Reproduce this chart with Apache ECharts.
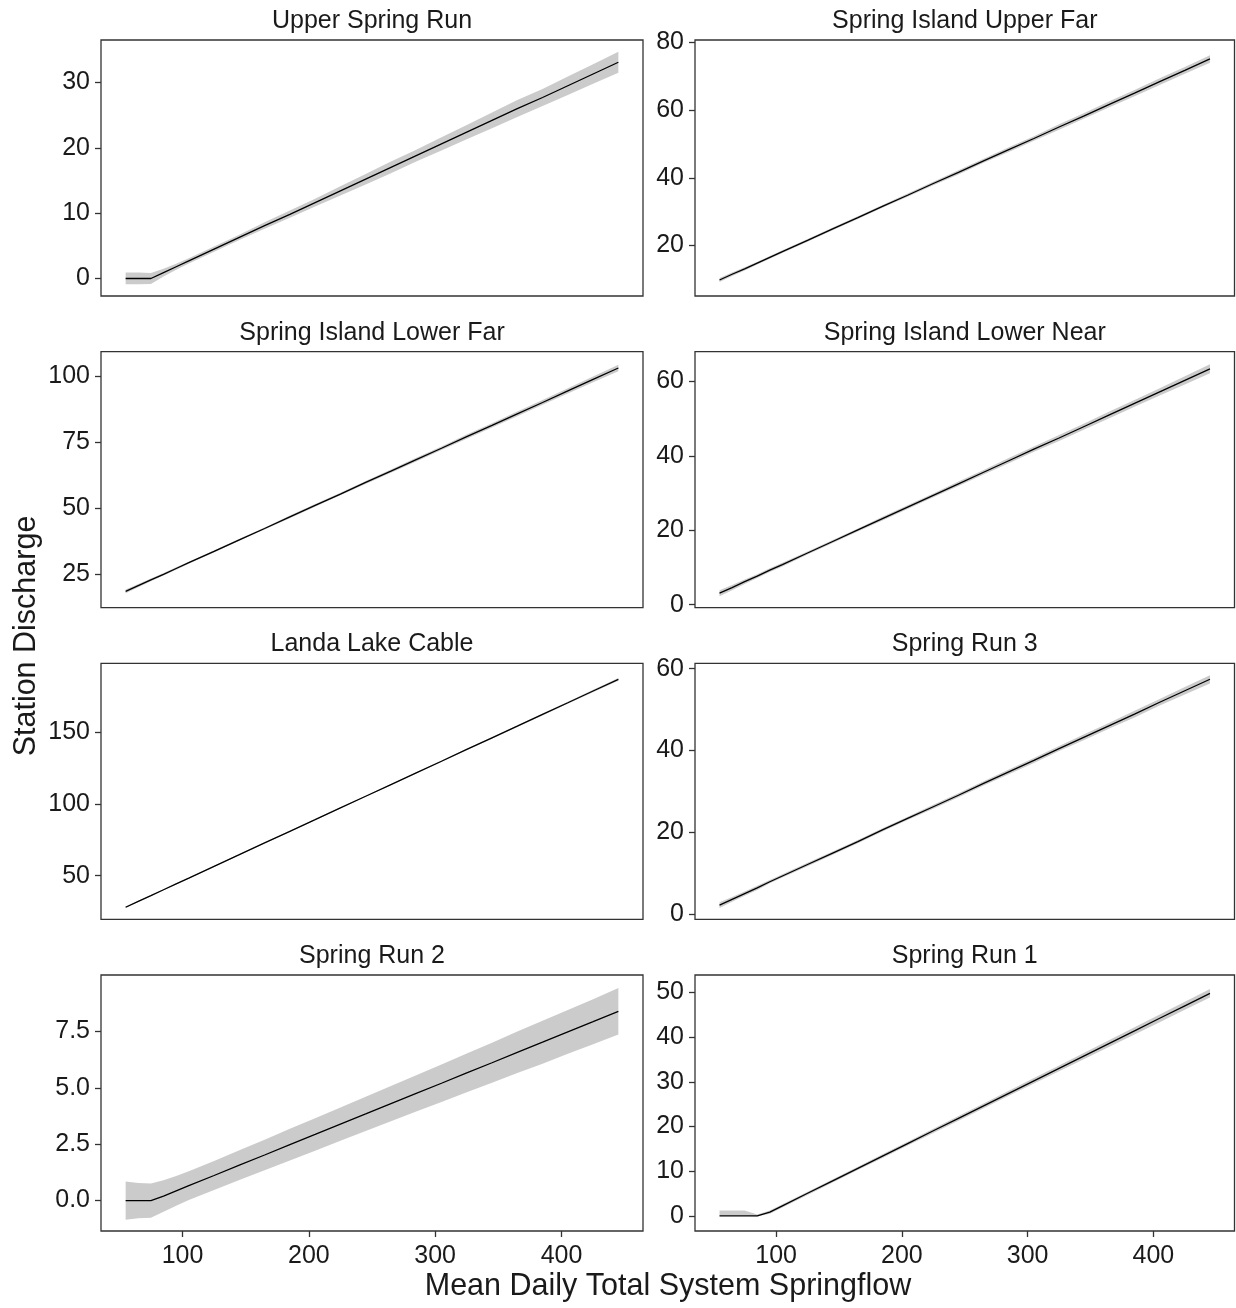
<!DOCTYPE html>
<html>
<head>
<meta charset="utf-8">
<title>Station Discharge vs Mean Daily Total System Springflow</title>
<script src="https://cdn.jsdelivr.net/npm/echarts@6/dist/echarts.min.js"></script>
<style>
  html, body { margin: 0; padding: 0; background: #ffffff; }
  #chart { width: 1236px; height: 1308px; }
</style>
</head>
<body>
<div id="chart"></div>
<script>
// Shared springflow grid (x) used by every station panel
const springflow = [55, 65, 75, 85, 95, 105, 125, 145, 165, 185, 205, 225, 245, 265, 285, 305, 325, 345, 365, 385, 405, 425, 445];
const xTicks = [100, 200, 300, 400];

// Upper Spring Run
const upperSpringRunFit = [0, 0, 0, 0.9, 1.8, 2.7, 4.5, 6.3, 8.1, 9.8, 11.6, 13.4, 15.2, 17.0, 18.8, 20.6, 22.4, 24.2, 26.0, 27.7, 29.5, 31.3, 33.1];
const upperSpringRunLo  = [-0.9, -0.9, -0.85, 0.3, 1.35, 2.3, 4.1, 5.9, 7.6, 9.3, 11.0, 12.7, 14.4, 16.1, 17.9, 19.6, 21.3, 23.0, 24.7, 26.4, 28.1, 29.8, 31.5];
const upperSpringRunHi  = [0.9, 0.9, 0.85, 1.5, 2.25, 3.1, 4.9, 6.7, 8.6, 10.4, 12.2, 14.1, 16.0, 17.9, 19.7, 21.6, 23.5, 25.4, 27.3, 29.0, 30.9, 32.8, 34.7];
const upperSpringRunTicks = [0, 10, 20, 30];

// Spring Island Upper Far
const islandUpperFarFit = [9.8, 11.5, 13.1, 14.8, 16.5, 18.2, 21.5, 24.9, 28.2, 31.6, 34.9, 38.3, 41.6, 45.0, 48.3, 51.6, 55.0, 58.3, 61.7, 65.0, 68.4, 71.7, 75.1];
const islandUpperFarLo  = [9.2, 11.0, 12.6, 14.4, 16.1, 17.8, 21.1, 24.5, 27.8, 31.2, 34.5, 37.8, 41.0, 44.4, 47.6, 50.9, 54.2, 57.5, 60.8, 64.1, 67.4, 70.7, 74.0];
const islandUpperFarHi  = [10.4, 12.0, 13.6, 15.2, 16.9, 18.6, 21.9, 25.3, 28.6, 32.0, 35.4, 38.8, 42.2, 45.6, 49.0, 52.3, 55.8, 59.1, 62.6, 65.9, 69.4, 72.7, 76.2];
const islandUpperFarTicks = [20, 40, 60, 80];

// Spring Island Lower Far
const islandLowerFarFit = [18.3, 20.5, 22.7, 24.8, 27.0, 29.2, 33.5, 37.9, 42.2, 46.6, 51.0, 55.3, 59.7, 64.0, 68.4, 72.7, 77.1, 81.4, 85.8, 90.1, 94.5, 98.9, 103.2];
const islandLowerFarLo  = [17.6, 19.9, 22.2, 24.3, 26.5, 28.8, 33.1, 37.5, 41.8, 46.1, 50.5, 54.8, 59.1, 63.4, 67.7, 72.0, 76.3, 80.6, 84.9, 89.2, 93.5, 97.8, 102.0];
const islandLowerFarHi  = [19.0, 21.1, 23.2, 25.3, 27.5, 29.6, 33.9, 38.3, 42.6, 47.1, 51.5, 55.8, 60.3, 64.6, 69.1, 73.4, 77.9, 82.2, 86.7, 91.0, 95.5, 100.0, 104.4];
const islandLowerFarTicks = [25, 50, 75, 100];

// Spring Island Lower Near
const islandLowerNearFit = [3.1, 4.6, 6.2, 7.7, 9.3, 10.8, 13.9, 17.0, 20.1, 23.2, 26.3, 29.4, 32.5, 35.6, 38.7, 41.8, 44.8, 47.9, 51.0, 54.1, 57.2, 60.3, 63.4];
const islandLowerNearLo  = [2.3, 3.9, 5.6, 7.2, 8.8, 10.3, 13.5, 16.6, 19.7, 22.7, 25.8, 28.9, 31.9, 35.0, 38.0, 41.1, 44.0, 47.1, 50.1, 53.2, 56.2, 59.2, 62.2];
const islandLowerNearHi  = [3.9, 5.3, 6.8, 8.2, 9.8, 11.3, 14.3, 17.4, 20.5, 23.7, 26.8, 29.9, 33.1, 36.2, 39.4, 42.5, 45.6, 48.7, 51.9, 55.0, 58.2, 61.4, 64.6];
const islandLowerNearTicks = [0, 20, 40, 60];

// Landa Lake Cable
const landaLakeFit = [28.0, 32.1, 36.1, 40.2, 44.3, 48.3, 56.5, 64.6, 72.8, 80.9, 89.0, 97.2, 105.3, 113.4, 121.6, 129.7, 137.9, 146.0, 154.1, 162.3, 170.4, 178.6, 186.7];
const landaLakeLo  = [27.4, 31.6, 35.6, 39.8, 43.9, 47.9, 56.1, 64.2, 72.4, 80.5, 88.6, 96.8, 104.9, 113.0, 121.1, 129.2, 137.4, 145.4, 153.5, 161.6, 169.7, 177.8, 185.8];
const landaLakeHi  = [28.6, 32.6, 36.6, 40.6, 44.7, 48.7, 56.9, 65.0, 73.2, 81.3, 89.4, 97.6, 105.7, 113.8, 122.1, 130.2, 138.4, 146.6, 154.7, 163.0, 171.1, 179.4, 187.6];
const landaLakeTicks = [50, 100, 150];

// Spring Run 3
const springRun3Fit = [2.3, 3.7, 5.1, 6.5, 8.0, 9.4, 12.2, 15.0, 17.8, 20.7, 23.5, 26.3, 29.1, 32.0, 34.8, 37.6, 40.5, 43.3, 46.1, 48.9, 51.8, 54.6, 57.4];
const springRun3Lo  = [1.6, 3.1, 4.6, 6.0, 7.6, 9.0, 11.8, 14.6, 17.4, 20.3, 23.1, 25.8, 28.6, 31.5, 34.2, 37.0, 39.9, 42.6, 45.4, 48.1, 51.0, 53.7, 56.4];
const springRun3Hi  = [3.0, 4.3, 5.6, 7.0, 8.4, 9.8, 12.6, 15.4, 18.2, 21.1, 23.9, 26.8, 29.6, 32.5, 35.4, 38.2, 41.1, 44.0, 46.8, 49.7, 52.6, 55.5, 58.4];
const springRun3Ticks = [0, 20, 40, 60];

// Spring Run 2
const springRun2Fit = [0, 0, 0, 0.20, 0.43, 0.66, 1.11, 1.57, 2.02, 2.48, 2.93, 3.39, 3.84, 4.30, 4.75, 5.20, 5.66, 6.11, 6.57, 7.02, 7.48, 7.93, 8.39];
const springRun2Lo  = [-0.85, -0.78, -0.76, -0.50, -0.23, 0.02, 0.47, 0.91, 1.34, 1.78, 2.21, 2.65, 3.08, 3.52, 3.95, 4.37, 4.80, 5.22, 5.65, 6.07, 6.51, 6.93, 7.36];
const springRun2Hi  = [0.85, 0.78, 0.76, 0.90, 1.09, 1.30, 1.75, 2.23, 2.70, 3.18, 3.65, 4.13, 4.60, 5.08, 5.55, 6.03, 6.52, 7.00, 7.49, 7.97, 8.45, 8.93, 9.42];
const springRun2Ticks = [0, 2.5, 5, 7.5];

// Spring Run 1
const springRun1Fit = [0, 0, 0, 0, 0.84, 2.24, 5.04, 7.83, 10.63, 13.43, 16.23, 19.03, 21.82, 24.62, 27.42, 30.22, 33.01, 35.81, 38.61, 41.41, 44.21, 47.0, 49.8];
const springRun1Lo  = [0, 0, 0, -0.15, 0.45, 1.85, 4.65, 7.45, 10.25, 13.0, 15.8, 18.55, 21.3, 24.1, 26.85, 29.6, 32.35, 35.1, 37.85, 40.6, 43.35, 46.1, 48.85];
const springRun1Hi  = [1.2, 1.2, 1.2, 0.3, 1.2, 2.6, 5.4, 8.2, 11.0, 13.85, 16.65, 19.5, 22.35, 25.15, 28.0, 30.85, 33.65, 36.5, 39.35, 42.2, 45.05, 47.9, 50.75];
const springRun1Ticks = [0, 10, 20, 30, 40, 50];

const panels = [
  { title: 'Upper Spring Run',         fit: upperSpringRunFit,  lo: upperSpringRunLo,  hi: upperSpringRunHi,  ticks: upperSpringRunTicks,  yMin: -2.68, yMax: 36.5,  digits: 0 },
  { title: 'Spring Island Upper Far',  fit: islandUpperFarFit,  lo: islandUpperFarLo,  hi: islandUpperFarHi,  ticks: islandUpperFarTicks,  yMin: 5.07,  yMax: 80.7,  digits: 0 },
  { title: 'Spring Island Lower Far',  fit: islandLowerFarFit,  lo: islandLowerFarLo,  hi: islandLowerFarHi,  ticks: islandLowerFarTicks,  yMin: 12.1,  yMax: 109.4, digits: 0 },
  { title: 'Spring Island Lower Near', fit: islandLowerNearFit, lo: islandLowerNearLo, hi: islandLowerNearHi, ticks: islandLowerNearTicks, yMin: -0.8,  yMax: 68.0,  digits: 0 },
  { title: 'Landa Lake Cable',         fit: landaLakeFit,       lo: landaLakeLo,       hi: landaLakeHi,       ticks: landaLakeTicks,       yMin: 19.6,  yMax: 197.9, digits: 0 },
  { title: 'Spring Run 3',             fit: springRun3Fit,      lo: springRun3Lo,      hi: springRun3Hi,      ticks: springRun3Ticks,      yMin: -1.17, yMax: 61.3,  digits: 0 },
  { title: 'Spring Run 2',             fit: springRun2Fit,      lo: springRun2Lo,      hi: springRun2Hi,      ticks: springRun2Ticks,      yMin: -1.35, yMax: 10.0,  digits: 1 },
  { title: 'Spring Run 1',             fit: springRun1Fit,      lo: springRun1Lo,      hi: springRun1Hi,      ticks: springRun1Ticks,      yMin: -3.4,  yMax: 53.9,  digits: 0 }
];

// Facet layout (pixels)
const FONT = '"Liberation Sans", Arial, Helvetica, sans-serif';
const colLeft = [101, 695];
const colWidth = [542, 539.5];
const rowTop = [40, 351.7, 663.3, 975];
const panelHeight = 256;
const X_MIN = 35.5, X_MAX = 464.5;
const TEXT_COLOR = '#1a1a1a';
const FRAME_COLOR = '#333333';

const grids = [], xAxes = [], yAxes = [], series = [], graphics = [];

panels.forEach(function (p, i) {
  const row = Math.floor(i / 2), col = i % 2;
  const isBottom = row === 3;
  const left = colLeft[col], top = rowTop[row], width = colWidth[col];

  grids.push({
    left: left, top: top, width: width, height: panelHeight,
    show: true, borderColor: FRAME_COLOR, borderWidth: 1.3, backgroundColor: 'transparent',
    containLabel: false
  });

  xAxes.push({
    type: 'value', gridIndex: i, min: X_MIN, max: X_MAX, position: 'bottom',
    axisLine: { show: false, onZero: false },
    splitLine: { show: false },
    axisTick: { show: isBottom, inside: false, length: 6, customValues: xTicks, lineStyle: { color: FRAME_COLOR, width: 1.3 } },
    axisLabel: {
      show: isBottom, customValues: xTicks, margin: 13,
      color: TEXT_COLOR, fontSize: 25, fontFamily: FONT
    }
  });

  yAxes.push({
    type: 'value', gridIndex: i, min: p.yMin, max: p.yMax, position: 'left',
    axisLine: { show: false, onZero: false },
    splitLine: { show: false },
    axisTick: { show: true, inside: false, length: 6, customValues: p.ticks, lineStyle: { color: FRAME_COLOR, width: 1.3 } },
    axisLabel: {
      show: true, customValues: p.ticks, margin: 11,
      color: TEXT_COLOR, fontSize: 25, fontFamily: FONT,
      formatter: function (v) { return Number(v).toFixed(p.digits); }
    }
  });

  // Confidence ribbon as one polygon
  series.push({
    type: 'custom', xAxisIndex: i, yAxisIndex: i, silent: true, z: 1,
    data: [[springflow[0], p.lo[0]]],
    renderItem: function (params, api) {
      const pts = [];
      for (let k = 0; k < springflow.length; k++) pts.push(api.coord([springflow[k], p.hi[k]]));
      for (let k = springflow.length - 1; k >= 0; k--) pts.push(api.coord([springflow[k], p.lo[k]]));
      return { type: 'polygon', shape: { points: pts }, style: { fill: '#cbcbcb', stroke: null } };
    }
  });

  // Fitted line
  series.push({
    type: 'line', xAxisIndex: i, yAxisIndex: i, z: 2, silent: true,
    showSymbol: false, symbol: 'none', animation: false,
    lineStyle: { color: '#000000', width: 1.3 },
    data: springflow.map(function (x, k) { return [x, p.fit[k]]; })
  });

  // Facet strip title
  graphics.push({
    type: 'text', x: left + width / 2, y: top - 19,
    style: {
      text: p.title, font: '25px ' + FONT, fill: TEXT_COLOR,
      textAlign: 'center', textVerticalAlign: 'middle', align: 'center', verticalAlign: 'middle'
    }
  });
});

// Shared axis titles
graphics.push({
  type: 'text', x: 668, y: 1287,
  style: {
    text: 'Mean Daily Total System Springflow', font: '30.5px ' + FONT, fill: TEXT_COLOR,
    textAlign: 'center', textVerticalAlign: 'middle', align: 'center', verticalAlign: 'middle'
  }
});
graphics.push({
  type: 'text', x: 27, y: 636, rotation: Math.PI / 2,
  style: {
    text: 'Station Discharge', font: '30.5px ' + FONT, fill: TEXT_COLOR,
    textAlign: 'center', textVerticalAlign: 'middle', align: 'center', verticalAlign: 'middle'
  }
});

const chart = echarts.init(document.getElementById('chart'), null, { renderer: 'canvas' });
chart.setOption({
  backgroundColor: '#ffffff',
  animation: false,
  grid: grids,
  xAxis: xAxes,
  yAxis: yAxes,
  series: series,
  graphic: graphics
});
</script>
</body>
</html>
